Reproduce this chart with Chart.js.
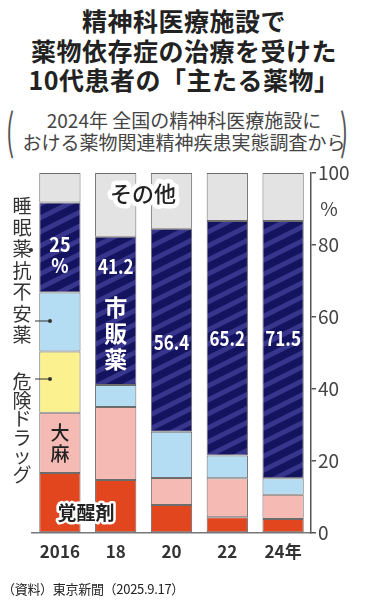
<!DOCTYPE html>
<html lang="ja">
<head>
<meta charset="utf-8">
<script src="https://cdn.jsdelivr.net/npm/chart.js@4.4.1/dist/chart.umd.min.js"></script>
<style>
body{margin:0;width:368px;height:604px;background:#fff;position:relative;overflow:hidden;font-family:'Noto Sans CJK JP',sans-serif;}
#title{position:absolute;top:6px;left:0;width:368px;text-align:center;font-weight:bold;font-size:25px;line-height:29.5px;color:#222;letter-spacing:0.5px;}
#sub{position:absolute;top:109px;left:0;width:368px;text-align:center;font-size:19px;line-height:22px;color:#444;}
.paren{position:absolute;top:96px;font-size:48px;line-height:64px;color:#555;font-weight:normal;transform:scaleX(.5);}
#chartBox{position:absolute;left:0;top:0;width:368px;height:604px;}
#src{position:absolute;left:2px;top:579px;font-size:13px;color:#222;letter-spacing:-0.3px;}
</style>
</head>
<body>
<div id="title">精神科医療施設で<br>薬物依存症の治療を受けた<br>10代患者の「主たる薬物」</div>
<div id="sub">2024年 全国の精神科医療施設に<br>おける薬物関連精神疾患実態調査から</div>
<div class="paren" style="left:2px">(</div>
<div class="paren" style="left:336px">)</div>
<div id="chartBox"><canvas id="chart"></canvas></div>
<div id="src">（資料）東京新聞（2025.9.17）</div>
<script>
const years = ['2016', '18', '20', '22', '24年'];
const kakuseizai = [16.7, 14.7, 7.8, 4.4, 3.9];
const taima = [16.7, 20.3, 7.5, 10.8, 6.7];
const kikenDrug = [17.0, null, null, null, null];
const suiminyaku = [16.4, 6.1, 12.8, 6.3, 4.6];
const shihanyaku = [25.0, 41.2, 56.4, 65.2, 71.5];
const sonota = [8.2, 17.7, 15.5, 13.3, 13.3];
const yTicks = [0, 20, 40, 60, 80, 100];

function stripes(){
    const c = document.createElement('canvas');
    c.width = 28; c.height = 14;
    const g = c.getContext('2d');
    g.fillStyle = '#13135f';
    g.fillRect(0, 0, 28, 14);
    g.strokeStyle = '#38368c';
    g.lineWidth = 5;
    for (const dy of [-14, 0, 14]) {
        g.beginPath();
        g.moveTo(-2, 15 + dy);
        g.lineTo(30, -1 + dy);
        g.stroke();
    }
    return g.createPattern(c, 'repeat');
}

// draw chars one under another
function vText(ctx, chars, x, y, step){
    chars.forEach((ch, i) => ctx.fillText(ch, x, y + i * step));
}
function haloText(ctx, txt, x, y, w){
    ctx.lineJoin = 'round';
    ctx.strokeStyle = '#fff';
    ctx.lineWidth = w;
    ctx.strokeText(txt, x, y);
    ctx.fillText(txt, x, y);
}
function narrowText(ctx, txt, x, y, sx){
    ctx.save();
    ctx.translate(x, y);
    ctx.scale(sx, 1);
    ctx.fillText(txt, 0, 0);
    ctx.restore();
}

const labels = {
    id: 'labels',
    afterDatasetsDraw(chart){
        const ctx = chart.ctx;
        const ys = chart.scales.y;
        const bar = (d, i) => chart.getDatasetMeta(d).data[i];
        const F = "'Noto Sans CJK JP', sans-serif";
        ctx.save();
        ctx.textAlign = 'center';
        ctx.textBaseline = 'middle';

        // white figures in 市販薬
        ctx.fillStyle = '#fff';
        ctx.font = `bold 20px ${F}`;
        let b = bar(4, 0);
        narrowText(ctx, '25', b.x, b.y + 42, 0.9);
        narrowText(ctx, '%', b.x, b.y + 63, 0.9);
        b = bar(4, 1);
        narrowText(ctx, '41.2', b.x, b.y + 30, 0.85);
        ctx.font = `bold 23px ${F}`;
        vText(ctx, ['市', '販', '薬'], b.x, b.y + 71, 26);
        ctx.font = `bold 20px ${F}`;
        narrowText(ctx, '56.4', bar(4, 2).x, ys.getPixelForValue(53), 0.85);
        narrowText(ctx, '65.2', bar(4, 3).x, ys.getPixelForValue(54), 0.85);
        narrowText(ctx, '71.5', bar(4, 4).x, ys.getPixelForValue(54), 0.85);

        // 大麻
        ctx.fillStyle = '#222';
        ctx.font = `500 19px ${F}`;
        b = bar(1, 0);
        const mid = (b.y + b.base) / 2;
        vText(ctx, ['大', '麻'], b.x, mid - 10, 21);

        // 覚醒剤
        ctx.font = `bold 19px ${F}`;
        haloText(ctx, '覚醒剤', 86, ys.getPixelForValue(5.6), 5);

        // その他
        ctx.font = `500 22px ${F}`;
        haloText(ctx, 'その他', 143, ys.getPixelForValue(94.4), 9);

        // left side labels
        ctx.font = `19px ${F}`;
        ctx.fillStyle = '#333';
        vText(ctx, ['睡', '眠', '薬', '抗', '不', '安', '薬'], 22, 206, 21.5);
        ctx.fillText('・', 31, 251);
        vText(ctx, ['危', '険', 'ド', 'ラ', 'ッ', 'グ'], 22, 382, 18.5);

        // leader lines with dots
        ctx.strokeStyle = '#333';
        ctx.lineWidth = 1;
        for (const yy of [321, 379]) {
            ctx.beginPath();
            ctx.moveTo(35, yy);
            ctx.lineTo(49, yy);
            ctx.stroke();
            ctx.beginPath();
            ctx.arc(50, yy, 2, 0, Math.PI * 2);
            ctx.fill();
        }

        // % unit on the axis
        ctx.font = `19px ${F}`;
        ctx.fillStyle = '#444';
        ctx.fillText('%', 329, 209);
        ctx.restore();
    }
};

const border = '#6c6c6c';
const mk = (label, data, color) => ({
    label: label,
    data: data,
    backgroundColor: color,
    borderColor: border,
    borderWidth: 1,
    borderSkipped: false
});

new Chart(document.getElementById('chart'), {
    type: 'bar',
    data: {
        labels: years,
        datasets: [
            mk('覚醒剤', kakuseizai, '#e1461f'),
            mk('大麻', taima, '#f5bab3'),
            mk('危険ドラッグ', kikenDrug, '#fbf18e'),
            mk('睡眠薬・抗不安薬', suiminyaku, '#b4dcf3'),
            mk('市販薬', shihanyaku, stripes()),
            mk('その他', sonota, '#e3e3e3')
        ]
    },
    options: {
        responsive: true,
        maintainAspectRatio: false,
        animation: false,
        layout: { padding: { top: 173, left: 32, right: 0, bottom: 31 } },
        datasets: { bar: { barPercentage: 0.74, categoryPercentage: 1 } },
        plugins: { legend: { display: false }, tooltip: { enabled: false } },
        scales: {
            x: {
                stacked: true,
                grid: { display: false, drawTicks: false },
                border: { display: true, color: '#777', width: 1.5 },
                ticks: {
                    padding: 8,
                    color: '#333',
                    font: { family: "'Noto Sans CJK JP', sans-serif", size: 17, weight: 'bold' }
                },
                afterFit: s => { s.height = 40; }
            },
            y: {
                stacked: true,
                position: 'right',
                min: 0,
                max: 100,
                afterBuildTicks: s => { s.ticks = yTicks.map(v => ({ value: v })); },
                grid: { drawOnChartArea: false, drawTicks: true, tickLength: 5, color: '#555', lineWidth: 1.5 },
                border: { display: true, color: '#555', width: 1.5 },
                ticks: {
                    padding: 2,
                    color: '#444',
                    font: { family: "'Noto Sans CJK JP', sans-serif", size: 19 }
                },
                afterFit: s => { s.width = 57; }
            }
        }
    },
    plugins: [labels]
});
</script>
</body>
</html>
